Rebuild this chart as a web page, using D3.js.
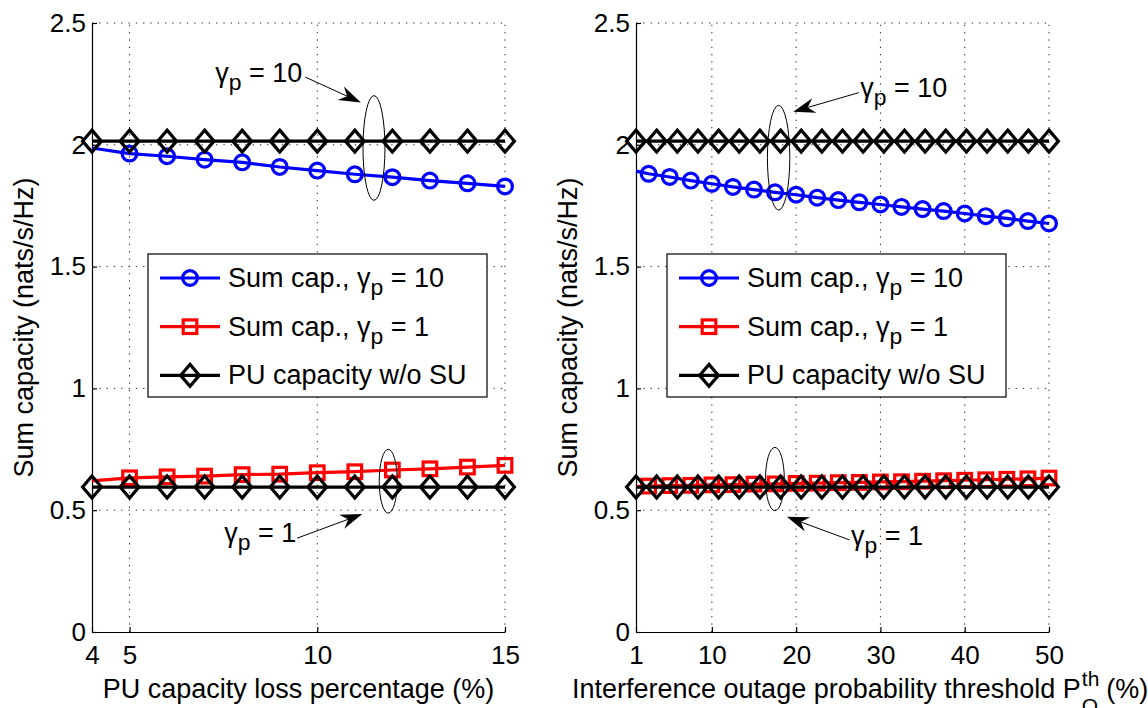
<!DOCTYPE html>
<html><head><meta charset="utf-8">
<script src="https://cdn.jsdelivr.net/npm/d3@7"></script>
<style>
body{margin:0;background:#fff}
text{font-family:"Liberation Sans",Arial,Helvetica,sans-serif;fill:#000}
</style>
</head><body>
<svg id="c" width="1148" height="708"></svg>
<script>
// ---------------- data ----------------
const yTicks = [0, 0.5, 1, 1.5, 2, 2.5];
const yTickLabels = ["0", "0.5", "1", "1.5", "2", "2.5"];

// left panel: PU capacity loss percentage
const lossTicks = [4, 5, 10, 15];
const lossX = [4, 5, 6, 7, 8, 9, 10, 11, 12, 13, 14, 15];
const lossSum10 = [1.987, 1.964, 1.953, 1.939, 1.928, 1.909, 1.894, 1.879, 1.867, 1.853, 1.842, 1.829];
const lossSum1  = [0.620, 0.633, 0.637, 0.640, 0.646, 0.648, 0.654, 0.658, 0.665, 0.670, 0.677, 0.684];
const lossPU10  = [2.015, 2.015, 2.015, 2.015, 2.015, 2.015, 2.015, 2.015, 2.015, 2.015, 2.015, 2.015];
const lossPU1   = [0.595, 0.595, 0.595, 0.595, 0.595, 0.595, 0.595, 0.595, 0.595, 0.595, 0.595, 0.595];

// right panel: interference outage probability threshold
const outTicks = [1, 10, 20, 30, 40, 50];
const outSumX = [1, 2.5, 5, 7.5, 10, 12.5, 15, 17.5, 20, 22.5, 25, 27.5, 30, 32.5, 35, 37.5, 40, 42.5, 45, 47.5, 50];
const outSum10 = [1.892, 1.881, 1.868, 1.853, 1.840, 1.827, 1.816, 1.805, 1.795, 1.783, 1.773, 1.764, 1.755, 1.745, 1.736, 1.728, 1.718, 1.707, 1.698, 1.687, 1.677];
const outSum1  = [0.597, 0.599, 0.601, 0.602, 0.604, 0.605, 0.607, 0.608, 0.610, 0.611, 0.613, 0.614, 0.616, 0.617, 0.619, 0.621, 0.623, 0.625, 0.627, 0.629, 0.632];
const outPUX = [1, 3.45, 5.9, 8.35, 10.8, 13.25, 15.7, 18.15, 20.6, 23.05, 25.5, 27.95, 30.4, 32.85, 35.3, 37.75, 40.2, 42.65, 45.1, 47.55, 50];
const outPU10 = [2.015, 2.015, 2.015, 2.015, 2.015, 2.015, 2.015, 2.015, 2.015, 2.015, 2.015, 2.015, 2.015, 2.015, 2.015, 2.015, 2.015, 2.015, 2.015, 2.015, 2.015];
const outPU1  = [0.595, 0.595, 0.595, 0.595, 0.595, 0.595, 0.595, 0.595, 0.595, 0.595, 0.595, 0.595, 0.595, 0.595, 0.595, 0.595, 0.595, 0.595, 0.595, 0.595, 0.595];

const legendLabels = [
  [{t: "Sum cap., γ"}, {t: "p", sub: true}, {t: " = 10"}],
  [{t: "Sum cap., γ"}, {t: "p", sub: true}, {t: " = 1"}],
  [{t: "PU capacity w/o SU"}]
];
const yLabel = "Sum capacity (nats/s/Hz)";
const xLabelLeft = "PU capacity loss percentage (%)";
const xLabelRight = ["Interference outage probability threshold P", "th", "O", "(%)"];

// annotations in data units: text position, arrow start/end, ellipse centre & radii
const leftAnn = [
  {text: [{t: "γ"}, {t: "p", sub: true}, {t: " = 10"}], tx: 7.28, ty: 2.258, ax1: 9.68, ay1: 2.278, ax2: 11.16, ay2: 2.174, ex: 11.51, ey: 1.987, erx: 0.293, ery: 0.215},
  {text: [{t: "γ"}, {t: "p", sub: true}, {t: " = 1"}], tx: 7.52, ty: 0.370, ax1: 9.46, ay1: 0.385, ax2: 11.2, ay2: 0.484, ex: 11.89, ey: 0.619, erx: 0.24, ery: 0.131}
];
const rightAnn = [
  {text: [{t: "γ"}, {t: "p", sub: true}, {t: " = 10"}], tx: 27.6, ty: 2.196, ax1: 27.43, ay1: 2.214, ax2: 19.65, ay2: 2.136, ex: 17.92, ey: 1.947, erx: 1.33, ery: 0.215},
  {text: [{t: "γ"}, {t: "p", sub: true}, {t: " = 1"}], tx: 26.5, ty: 0.357, ax1: 26.33, ay1: 0.378, ax2: 18.89, ay2: 0.473, ex: 17.48, ey: 0.628, erx: 1.115, ery: 0.130}
];

// ---------------- drawing ----------------
const svg = d3.select("#c");
const Y0 = 632, Y1 = 23;
const BLUE = "#0000ff", RED = "#ff0000", BLACK = "#000000";
const FS_TICK = 26, FS_LAB = 27, FS_LEG = 27, FS_ANN = 27;

function rich(sel, parts, fs) {
  parts.forEach((p, i) => {
    const ts = sel.append("tspan").text(p.t);
    if (p.sub) ts.attr("dy", fs * 0.3).attr("font-size", fs * 0.85);
    else if (i > 0 && parts[i - 1].sub) ts.attr("dy", -fs * 0.3);
  });
  return sel;
}

function marker(g, type, cx, cy, color) {
  if (type === "circle") {
    g.append("circle").attr("cx", cx).attr("cy", cy).attr("r", 7.4)
      .attr("fill", "none").attr("stroke", color).attr("stroke-width", 3.2);
  } else if (type === "square") {
    g.append("rect").attr("x", cx - 6.8).attr("y", cy - 6.8).attr("width", 13.6).attr("height", 13.6)
      .attr("fill", "none").attr("stroke", color).attr("stroke-width", 3.2);
  } else {
    g.append("path").attr("d", `M${cx},${cy - 11}L${cx + 9.4},${cy}L${cx},${cy + 11}L${cx - 9.4},${cy}Z`)
      .attr("fill", "none").attr("stroke", color).attr("stroke-width", 3.2).attr("stroke-linejoin", "miter");
  }
}

function arrow(g, x1, y1, x2, y2) {
  const dx = x2 - x1, dy = y2 - y1, L = Math.hypot(dx, dy), ux = dx / L, uy = dy / L, px = -uy, py = ux;
  const hl = 22, hw = 7.5, notch = 15;
  const bx = x2 - ux * hl, by = y2 - uy * hl;
  g.append("line").attr("x1", x1).attr("y1", y1).attr("x2", x2 - ux * notch).attr("y2", y2 - uy * notch)
    .attr("stroke", "#000").attr("stroke-width", 1);
  g.append("path").attr("d",
    `M${x2},${y2}L${bx + px * hw},${by + py * hw}L${x2 - ux * notch},${y2 - uy * notch}L${bx - px * hw},${by - py * hw}Z`)
    .attr("fill", "#000");
}

function panel(cfg) {
  const x = d3.scaleLinear().domain(cfg.xDomain).range([cfg.left, cfg.right]);
  const y = d3.scaleLinear().domain([0, 2.5]).range([Y0, Y1]);
  const g = svg.append("g");

  // dotted grid
  g.selectAll(null).data(cfg.xTicks.filter(t => t !== cfg.xDomain[0])).join("line")
    .attr("x1", d => x(d)).attr("x2", d => x(d)).attr("y1", Y0).attr("y2", Y1)
    .attr("stroke", "#222").attr("stroke-width", 1).attr("stroke-dasharray", "1.3,6");
  g.selectAll(null).data(yTicks.filter(t => t > 0)).join("line")
    .attr("x1", cfg.left).attr("x2", cfg.right).attr("y1", d => y(d)).attr("y2", d => y(d))
    .attr("stroke", "#222").attr("stroke-width", 1).attr("stroke-dasharray", "1.3,6");

  // axes
  const ax = g.append("g").attr("transform", `translate(0,${Y0})`)
    .call(d3.axisBottom(x).tickValues(cfg.xTicks).tickFormat(d3.format("d")).tickSizeInner(-5).tickSizeOuter(0).tickPadding(14));
  const ay = g.append("g").attr("transform", `translate(${cfg.left},0)`)
    .call(d3.axisLeft(y).tickValues(yTicks).tickFormat((d, i) => yTickLabels[i]).tickSizeInner(-5).tickSizeOuter(0).tickPadding(6));
  [ax, ay].forEach(a => {
    a.attr("font-family", null).attr("font-size", null);
    a.selectAll("text").attr("font-size", FS_TICK).style("fill", "#000");
    a.selectAll("line,path").attr("stroke", "#000").attr("stroke-width", 1.2);
  });

  // series
  const line = d3.line().x(d => x(d[0])).y(d => y(d[1]));
  cfg.series.forEach(s => {
    const pts = s.x.map((v, i) => [v, s.y[i]]);
    g.append("path").attr("d", line(pts)).attr("fill", "none").attr("stroke", s.color).attr("stroke-width", 3.2);
    const mg = g.append("g");
    pts.forEach((p, i) => { if (i >= s.markFrom) marker(mg, s.marker, x(p[0]), y(p[1]), s.color); });
  });

  // annotations
  cfg.ann.forEach(a => {
    g.append("ellipse").attr("cx", x(a.ex)).attr("cy", y(a.ey))
      .attr("rx", Math.abs(x(a.ex + a.erx) - x(a.ex))).attr("ry", Math.abs(y(a.ey + a.ery) - y(a.ey)))
      .attr("fill", "none").attr("stroke", "#000").attr("stroke-width", 1);
    arrow(g, x(a.ax1), y(a.ay1), x(a.ax2), y(a.ay2));
    rich(g.append("text").attr("x", x(a.tx)).attr("y", y(a.ty)).attr("font-size", FS_ANN), a.text, FS_ANN);
  });

  // legend
  const lg = g.append("g");
  lg.append("rect").attr("x", cfg.legX).attr("y", 254).attr("width", 339).attr("height", 143)
    .attr("fill", "#fff").attr("stroke", "#000").attr("stroke-width", 1.2);
  cfg.series.slice(0, 3).forEach((s, i) => {
    const cy = 278 + i * 48.7;
    lg.append("line").attr("x1", cfg.legX + 12).attr("x2", cfg.legX + 72).attr("y1", cy).attr("y2", cy)
      .attr("stroke", s.color).attr("stroke-width", 3.2);
    marker(lg, s.marker, cfg.legX + 42, cy, s.color);
    rich(lg.append("text").attr("x", cfg.legX + 80).attr("y", cy + 9).attr("font-size", FS_LEG), legendLabels[i], FS_LEG);
  });

  // y label
  g.append("text").attr("transform", `translate(${cfg.left - 59},${(Y0 + Y1) / 2}) rotate(-90)`)
    .attr("text-anchor", "middle").attr("font-size", FS_LAB).text(yLabel);
  return {x, y, g};
}

const L = panel({
  left: 92, right: 505, xDomain: [4, 15], xTicks: lossTicks, legX: 148,
  series: [
    {x: lossX, y: lossSum10, color: BLUE, marker: "circle", markFrom: 1},
    {x: lossX, y: lossSum1, color: RED, marker: "square", markFrom: 1},
    {x: lossX, y: lossPU10, color: BLACK, marker: "diamond", markFrom: 0},
    {x: lossX, y: lossPU1, color: BLACK, marker: "diamond", markFrom: 0}
  ],
  ann: leftAnn
});
const R = panel({
  left: 636, right: 1049, xDomain: [1, 50], xTicks: outTicks, legX: 667,
  series: [
    {x: outSumX, y: outSum10, color: BLUE, marker: "circle", markFrom: 1},
    {x: outSumX, y: outSum1, color: RED, marker: "square", markFrom: 1},
    {x: outPUX, y: outPU10, color: BLACK, marker: "diamond", markFrom: 0},
    {x: outPUX, y: outPU1, color: BLACK, marker: "diamond", markFrom: 0}
  ],
  ann: rightAnn
});

// x labels
L.g.append("text").attr("x", (L.x.range()[0] + L.x.range()[1]) / 2).attr("y", 698)
  .attr("text-anchor", "middle").attr("font-size", FS_LAB).text(xLabelLeft);

const xs = 572;
const xl = R.g.append("text").attr("x", xs).attr("y", 698).attr("font-size", FS_LAB).text(xLabelRight[0]);
const xe = xs + xl.node().getComputedTextLength();
const sup = R.g.append("text").attr("x", xe + 1).attr("y", 686).attr("font-size", 21).text(xLabelRight[1]);
const sub = R.g.append("text").attr("x", xe + 1).attr("y", 713).attr("font-size", 21).text(xLabelRight[2]);
const w = Math.max(sup.node().getComputedTextLength(), sub.node().getComputedTextLength());
R.g.append("text").attr("x", xe + w + 8).attr("y", 698).attr("font-size", FS_LAB).text(xLabelRight[3]);
</script>
</body></html>
